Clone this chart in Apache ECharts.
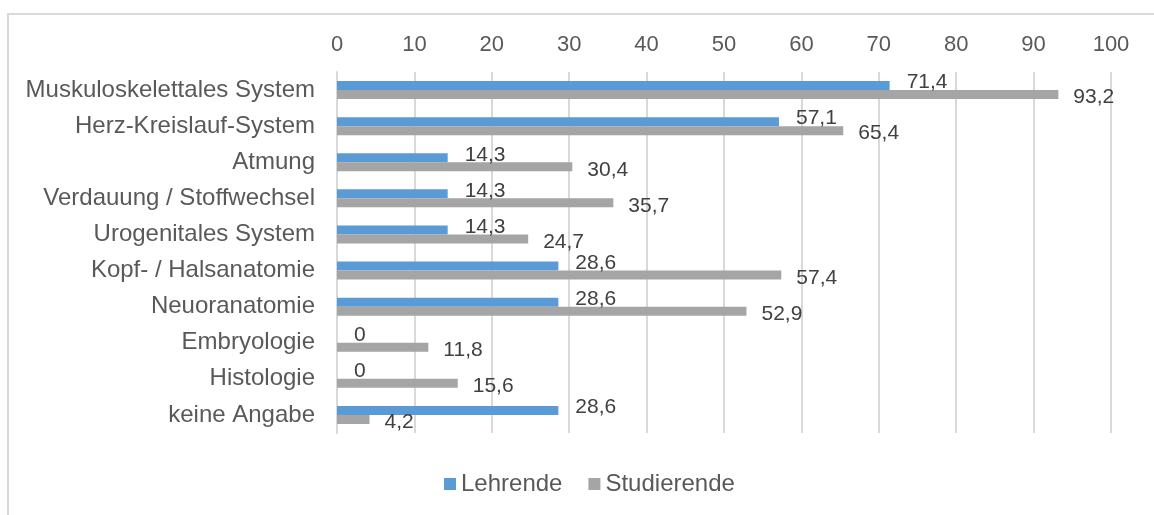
<!DOCTYPE html>
<html>
<head>
<meta charset="utf-8">
<script src="https://cdn.jsdelivr.net/npm/echarts@6/dist/echarts.min.js"></script>
<style>
  html, body { margin: 0; padding: 0; background: #fff; }
  #chart { width: 1154px; height: 515px; }
</style>
</head>
<body>
<div id="chart"></div>
<script>
// Anatomy topics named by teachers and students (percent)
const categories = [
  'Muskuloskelettales System',
  'Herz-Kreislauf-System',
  'Atmung',
  'Verdauung / Stoffwechsel',
  'Urogenitales System',
  'Kopf- / Halsanatomie',
  'Neuoranatomie',
  'Embryologie',
  'Histologie',
  'keine Angabe'
];
const lehrende = [71.4, 57.1, 14.3, 14.3, 14.3, 28.6, 28.6, 0, 0, 28.6];
const studierende = [93.2, 65.4, 30.4, 35.7, 24.7, 57.4, 52.9, 11.8, 15.6, 4.2];
const seriesNames = ['Lehrende', 'Studierende'];

const FONT = '"Liberation Sans", Arial, sans-serif';
const TEXT = '#595959';
const fmt = v => String(v).replace('.', ',');

const chart = echarts.init(document.getElementById('chart'), null, { renderer: 'canvas' });

chart.setOption({
  backgroundColor: '#fff',
  animation: false,
  textStyle: { fontFamily: FONT },
  graphic: [{
    type: 'rect',
    shape: { x: 8, y: 14, width: 1160, height: 520 },
    style: { fill: 'none', stroke: '#D9D9D9', lineWidth: 2 },
    silent: true
  }],
  grid: { left: 337, right: 43, top: 72, bottom: 82, containLabel: false },
  legend: {
    data: seriesNames,
    left: 439,
    top: 467,
    itemWidth: 12,
    itemHeight: 12,
    itemGap: 26,
    icon: 'rect',
    textStyle: { color: TEXT, fontSize: 24, fontFamily: FONT }
  },
  xAxis: {
    type: 'value',
    position: 'top',
    min: 0,
    max: 100,
    interval: 10,
    axisLine: { show: false },
    axisTick: { show: false },
    axisLabel: { color: TEXT, fontSize: 22, fontFamily: FONT, margin: 16 },
    splitLine: { show: true, lineStyle: { color: '#D9D9D9', width: 2 } }
  },
  yAxis: {
    type: 'category',
    data: categories,
    inverse: true,
    axisLine: { show: true, lineStyle: { color: '#D9D9D9', width: 2 } },
    axisTick: { show: false },
    axisLabel: { color: TEXT, fontSize: 24, fontFamily: FONT, margin: 22 }
  },
  series: [
    {
      name: seriesNames[0],
      type: 'bar',
      data: lehrende,
      barWidth: 9,
      barGap: '0%',
      itemStyle: { color: '#5B9BD5' },
      label: {
        show: true,
        position: 'right',
        distance: 17,
        offset: [0, -3],
        color: '#404040',
        fontSize: 21,
        fontFamily: FONT,
        formatter: p => fmt(p.value)
      }
    },
    {
      name: seriesNames[1],
      type: 'bar',
      data: studierende,
      barWidth: 9,
      barGap: '0%',
      itemStyle: { color: '#A5A5A5' },
      label: {
        show: true,
        position: 'right',
        distance: 15,
        offset: [0, 3],
        color: '#404040',
        fontSize: 21,
        fontFamily: FONT,
        formatter: p => fmt(p.value)
      }
    }
  ]
});
</script>
</body>
</html>
